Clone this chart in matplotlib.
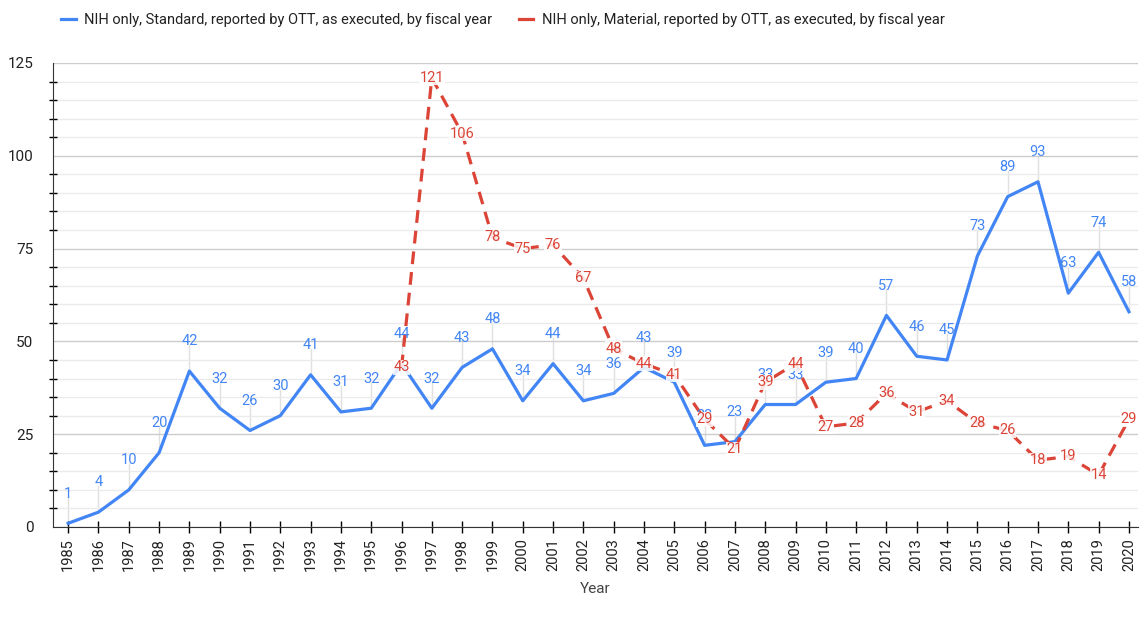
import numpy as np
import matplotlib.pyplot as plt
from matplotlib.ticker import MultipleLocator

plt.rcParams['font.family'] = ['Roboto', 'DejaVu Sans']

years = list(range(1985, 2021))
standard = [1, 4, 10, 20, 42, 32, 26, 30, 41, 31, 32, 44, 32, 43, 48, 34, 44, 34, 36, 43,
            39, 22, 23, 33, 33, 39, 40, 57, 46, 45, 73, 89, 93, 63, 74, 58]
material_years = list(range(1996, 2021))
material = [43, 121, 106, 78, 75, 76, 67, 48, 44, 41, 29, 21, 39, 44, 27, 28, 36, 31, 34,
            28, 26, 18, 19, 14, 29]

blue = '#4285f4'
red = '#db4437'

fig = plt.figure(figsize=(11.4, 6.23), dpi=100)
ax = fig.add_axes([53 / 1140, 1 - 527 / 623, 1085 / 1140, 464 / 623])

ax.plot(years, standard, color=blue, lw=2.3, zorder=3,
        label='NIH only, Standard, reported by OTT, as executed, by fiscal year')
ax.plot(material_years, material, color=red, lw=2.3, ls=(0, (4, 2.5)), zorder=3,
        label='NIH only, Material, reported by OTT, as executed, by fiscal year')

# annotation stems + labels
for x, y in zip(years, standard):
    ax.plot([x, x], [y, y + 7], color='#e0e0e0', lw=1, zorder=1)
    ax.text(x, y + 8, str(y), color=blue, fontsize=10.5, ha='center', va='center', zorder=4)
for x, y in zip(material_years, material):
    ax.text(x, y, str(y), color=red, fontsize=10.5, ha='center', va='center', zorder=5,
            bbox=dict(fc='white', ec='none', pad=0.3, alpha=0.85))

ax.set_xlim(1984.5, 2020.3)
ax.set_ylim(0, 125)
ax.set_xticks(years)
ax.set_xticklabels([str(y) for y in years], rotation=90, fontsize=10.5, color='#222222')
ax.yaxis.set_major_locator(MultipleLocator(25))
ax.yaxis.set_minor_locator(MultipleLocator(5))
ax.tick_params(axis='y', which='major', length=0, labelsize=11, colors='#222222', pad=14)
ax.tick_params(axis='y', which='minor', length=6, direction='inout', width=1)
ax.tick_params(axis='x', length=8, direction='inout', width=1, pad=4)
ax.grid(axis='y', which='major', color='#cccccc', lw=1, zorder=0)
ax.grid(axis='y', which='minor', color='#ebebeb', lw=1, zorder=0)
for s in ['top', 'right']:
    ax.spines[s].set_visible(False)
ax.spines['left'].set_color('#333333')
ax.spines['bottom'].set_color('#333333')

ax.set_xlabel('Year', fontsize=11, color='#444444', labelpad=8)

leg = fig.legend(loc='upper left', bbox_to_anchor=(48 / 1140, 1.0), ncol=2, frameon=False,
                 fontsize=10.5, handlelength=1.0, handletextpad=0.6, columnspacing=1.8,
                 labelcolor='#222222')
leg.get_lines()[1].set_linestyle('-')

fig.savefig('out.png', dpi=100)
